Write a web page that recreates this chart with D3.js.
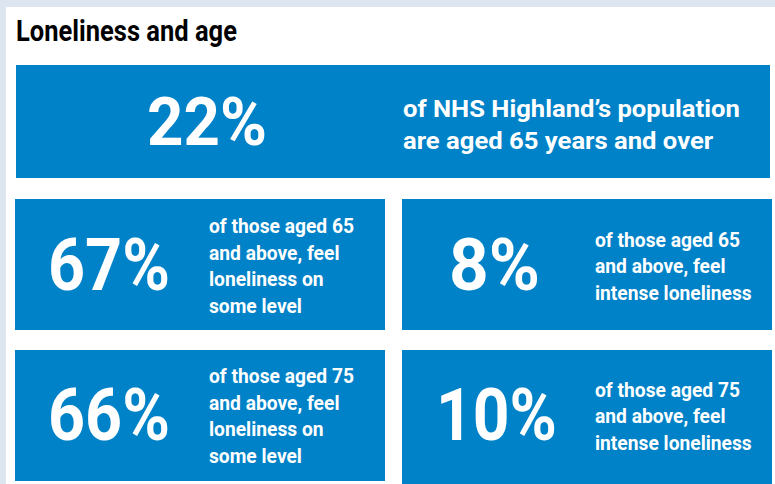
<!DOCTYPE html>
<html>
<head>
<meta charset="utf-8">
<script src="https://cdn.jsdelivr.net/npm/d3@7"></script>
<style>
  body { margin: 0; background: #dce5f0; }
  svg { display: block; }
  text { font-family: "Roboto", "Liberation Sans", sans-serif; font-weight: bold; }
</style>
</head>
<body>
<svg width="775" height="484"></svg>
<script>
// figures and their captions
var title = 'Loneliness and age';
var figures = ['22%', '67%', '8%', '66%', '10%'];
var captions = [
  ['of NHS Highland\u2019s population', 'are aged 65 years and over'],
  ['of those aged 65', 'and above, feel', 'loneliness on', 'some level'],
  ['of those aged 65', 'and above, feel', 'intense loneliness'],
  ['of those aged 75', 'and above, feel', 'loneliness on', 'some level'],
  ['of those aged 75', 'and above, feel', 'intense loneliness']
];

var svg = d3.select('svg');
var blue = '#0082c8';

// white panel
svg.append('rect')
  .attr('x', 6).attr('y', 7)
  .attr('width', 775).attr('height', 484)
  .attr('fill', '#fff');

// box layout: first box spans full width, then a 2x2 grid
var boxes = [
  {x: 16, y: 65, w: 754, h: 113, cx: 207, numW: 120, numBase: 145, numSize: 66,
   tx: 403, lineW: 337, base: 117, lh: 32, size: 24.5},
  {x: 15, y: 199, w: 370, h: 131, cx: 109, numW: 122, numBase: 290, numSize: 73,
   tx: 209, lineW: 145, base: 233, lh: 26.7, size: 19.5},
  {x: 402, y: 199, w: 370, h: 131, cx: 494.5, numW: 91, numBase: 290, numSize: 73,
   tx: 595, lineW: 145, base: 247, lh: 26.5, size: 19.5},
  {x: 15, y: 350, w: 370, h: 131, cx: 109, numW: 122, numBase: 440, numSize: 73,
   tx: 209, lineW: 145, base: 383, lh: 26.7, size: 19.5},
  {x: 402, y: 350, w: 370, h: 134, cx: 496.5, numW: 121, numBase: 440, numSize: 73,
   tx: 595, lineW: 145, base: 397, lh: 26.5, size: 19.5}
];

// title
var tg = svg.append('g').attr('transform', 'translate(16,0)');
var tt = tg.append('text')
  .attr('y', 41)
  .attr('fill', '#000')
  .style('font-size', '29px')
  .text(title);
tg.attr('transform', 'translate(16,0) scale(' + (221 / tt.node().getComputedTextLength()) + ',1)');

var cards = svg.selectAll('g.card')
  .data(figures)
  .enter()
  .append('g')
  .attr('class', 'card');

cards.append('rect')
  .attr('x', (d, i) => boxes[i].x)
  .attr('y', (d, i) => boxes[i].y)
  .attr('width', (d, i) => boxes[i].w)
  .attr('height', (d, i) => boxes[i].h)
  .attr('fill', blue);

// big number, squeezed to the measured width
cards.each(function(d, i) {
  var b = boxes[i];
  var g = d3.select(this).append('g');
  var t = g.append('text')
    .attr('y', b.numBase)
    .attr('text-anchor', 'middle')
    .attr('fill', '#fff')
    .style('font-size', b.numSize + 'px')
    .text(d);
  var sx = b.numW / t.node().getComputedTextLength();
  g.attr('transform', 'translate(' + b.cx + ',0) scale(' + sx + ',1)');
});

// caption lines
cards.each(function(d, i) {
  var b = boxes[i];
  var g = d3.select(this).append('g');
  var lines = g.selectAll('text')
    .data(captions[i])
    .enter()
    .append('text')
    .attr('y', (s, j) => b.base + j * b.lh)
    .attr('fill', '#fff')
    .style('font-size', b.size + 'px')
    .text(s => s);
  var sx = b.lineW / lines.node().getComputedTextLength();
  g.attr('transform', 'translate(' + b.tx + ',0) scale(' + sx + ',1)');
});
</script>
</body>
</html>
